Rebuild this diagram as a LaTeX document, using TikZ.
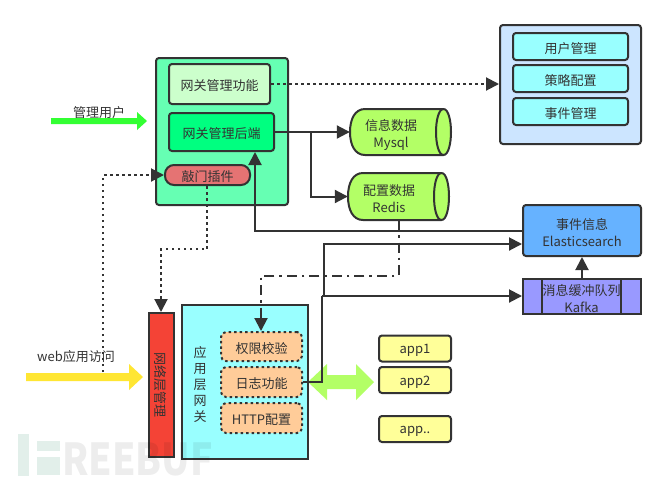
\documentclass[tikz,border=0pt]{standalone}
\usepackage{fontspec}
\setmainfont{Noto Sans CJK SC}
\usetikzlibrary{arrows.meta,calc}
\definecolor{ink}{HTML}{333333}
\definecolor{peach}{HTML}{FFCC99}
\definecolor{mint}{HTML}{66FFB3}
\definecolor{palegreen}{HTML}{CCFFCC}
\definecolor{springg}{HTML}{00FF80}
\definecolor{salmon}{HTML}{E57373}
\definecolor{paleblue}{HTML}{CCE5FF}
\definecolor{aqua}{HTML}{99FFFF}
\definecolor{lime}{HTML}{B3FF66}
\definecolor{skyb}{HTML}{66B2FF}
\definecolor{violet}{HTML}{9999FF}
\definecolor{paley}{HTML}{FFFF99}
\definecolor{redb}{HTML}{F44336}
\definecolor{greenarrow}{HTML}{33FF33}
\definecolor{yellowarrow}{HTML}{FFE633}
\definecolor{markgreen}{HTML}{DFEEE8}
\tikzset{
  x=1pt,y=-1pt,
  every node/.style={text=ink,font=\fontsize{13}{17}\selectfont,align=center,inner sep=0pt},
  boxed/.style={draw=ink,line width=2pt,rounded corners=3pt},
  sharpbox/.style={draw=ink,line width=2pt},
  dotbox/.style={draw=ink,line width=2pt,rounded corners=5pt,dash pattern=on 2.5pt off 3pt,fill=peach},
  tip/.style={-{Triangle[length=13pt,width=13pt]}},
  conn/.style={draw=ink,line width=2pt,tip},
  plainconn/.style={draw=ink,line width=2pt},
  dotconn/.style={draw=ink,line width=2pt,dash pattern=on 2.5pt off 3.5pt,tip},
  dashdotconn/.style={draw=ink,line width=2pt,dash pattern=on 10pt off 5pt on 2.5pt off 5pt,tip},
}
% single line of box text, lowered to sit as in the reference (box size kept)
\newcommand{\dn}[1]{\raisebox{-2pt}[\height][\depth]{#1}}
% horizontal drum: left x, top y, right x, bottom y
\newcommand{\drumshape}[4]{%
  \path[draw=ink,line width=2pt,fill=lime]
    (#3-7.5,#2) -- (#1+15,#2) .. controls (#1+5,#2) and (#1,#2+10) .. (#1,{(#2+#4)/2})
    .. controls (#1,#4-10) and (#1+5,#4) .. (#1+15,#4) -- (#3-7.5,#4)
    .. controls (#3-2.5,#4) and (#3,#4-12) .. (#3,{(#2+#4)/2})
    .. controls (#3,#2+12) and (#3-2.5,#2) .. (#3-7.5,#2) -- cycle;
  \path[draw=ink,line width=2pt]
    (#3-7.5,#2) .. controls (#3-12.5,#2) and (#3-15,#2+12) .. (#3-15,{(#2+#4)/2})
    .. controls (#3-15,#4-12) and (#3-12.5,#4) .. (#3-7.5,#4);
}
\begin{document}
\begin{tikzpicture}
\useasboundingbox (0,0) rectangle (666,483);
\fill[white] (0,0) rectangle (666,483);

% management group
\node[boxed,fill=mint,minimum width=132pt,minimum height=147pt] (mgmt) at (222,131.5) {};
\node[boxed,fill=palegreen,minimum width=101pt,minimum height=40pt] (func) at (219.5,84) {\dn{网关管理功能}};
\node[boxed,fill=springg,minimum width=105pt,minimum height=38pt] (back) at (221.5,132) {\dn{网关管理后端}};
\node[draw=ink,line width=2pt,rounded corners=9pt,fill=salmon,minimum width=85pt,minimum height=20pt] (knock) at (207.5,175) {\dn{敲门插件}};

% right panel
\node[boxed,fill=paleblue,minimum width=141pt,minimum height=119pt] (panel) at (570.5,84.5) {};
\node[boxed,fill=aqua,minimum width=115pt,minimum height=27pt] (u1) at (570.5,46.5) {\dn{用户管理}};
\node[boxed,fill=aqua,minimum width=115pt,minimum height=27pt] (u2) at (570.5,78.5) {\dn{策略配置}};
\node[boxed,fill=aqua,minimum width=115pt,minimum height=27pt] (u3) at (570.5,111.5) {\dn{事件管理}};

% cylinders
\drumshape{350}{109}{451}{155}
\node[minimum width=101pt,minimum height=46pt] (mysql) at (400.5,132) {};
\node (mysqltext) at (391,134.5) {信息数据\\Mysql};
\drumshape{348}{173}{449}{220}
\node[minimum width=101pt,minimum height=47pt] (redis) at (398.5,196.5) {};
\node (redistext) at (389,199) {配置数据\\Redis};

% event store and queue
\node[boxed,fill=skyb,minimum width=118pt,minimum height=51pt] (es) at (582,230.5) {};
\node (estext) at (582,232.5) {事件信息\\Elasticsearch};
\node[sharpbox,fill=violet,minimum width=118pt,minimum height=35pt] (kafka) at (582,296.5) {};
\node[sharpbox,minimum width=79pt,minimum height=35pt] (kafkain) at (581.5,296.5) {};
\node (kafkatext) at (581.5,298.5) {消息缓冲队列\\Kafka};

% apps
\node[boxed,fill=paley,minimum width=72pt,minimum height=26pt] (app1) at (415,348.5) {\dn{app1}};
\node[boxed,fill=paley,minimum width=72pt,minimum height=26pt] (app2) at (415,380) {\dn{app2}};
\node[boxed,fill=paley,minimum width=72pt,minimum height=26pt] (app3) at (415,429) {\dn{app..}};

% gateway
\node[sharpbox,fill=redb,minimum width=25pt,minimum height=144pt] (net) at (161.5,385) {};
\node[rotate=-90] (netlabel) at (160.5,385) {网络层管理};
\node[sharpbox,fill=aqua,minimum width=126pt,minimum height=154pt] (gw) at (245,382) {};
\node[font=\fontsize{13}{16}\selectfont] (gwlabel) at (200,384.5) {应\\用\\层\\网\\关};
\node[dotbox,minimum width=81pt,minimum height=29pt] (auth) at (261.5,346.5) {\dn{权限校验}};
\node[dotbox,minimum width=81pt,minimum height=30pt] (logf) at (261.5,382) {\dn{日志功能}};
\node[dotbox,minimum width=81pt,minimum height=30pt] (http) at (261.5,418) {\dn{HTTP配置}};

% block arrows
\fill[greenarrow] (51,118) -- (137,118) -- (137,112) -- (147,121) -- (137,130) -- (137,124) -- (51,124) -- cycle;
\node (mgrtext) at (99,113) {管理用户};
\fill[yellowarrow] (26,373) -- (129,373) -- (129,364) -- (143,377) -- (129,390) -- (129,381) -- (26,381) -- cycle;
\node (webtext) at (76,357) {web应用访问};
\fill[lime] (308,382) -- (327,364) -- (327,375) -- (356,375) -- (356,364) -- (374,382) -- (356,400) -- (356,389) -- (327,389) -- (327,400) -- cycle;

% connector helpers
\coordinate (bj) at (311,132);
\coordinate (backin) at (255,152);
\coordinate (knockout) at (207,186);
\coordinate (authin) at (261,331);
\coordinate (netin) at (161,312);
\coordinate (webup) at (103,372);
\coordinate (lj) at (322,382);
\coordinate (kj) at (322,296);
\coordinate (ej) at (324,296);

% connectors
\draw[dotconn] (func.east) -- (panel.west |- func.east);
\draw[conn] (back.east) -- (mysql.west);
\draw[conn] (bj) |- (redis.west);
\draw[conn] (es.west) -| (backin);
\draw[plainconn] (logf.east) -- (lj) -- (kj);
\draw[conn] (kj) -- (kafka.west |- kj);
\draw[conn] (ej) |- (es.west |- 0,244);
\draw[conn] (kafka.north) -- (es.south);
\draw[dashdotconn] (redis.south) |- (261,276) -- (authin);
\draw[dotconn] (knockout) |- (161,249) -- (netin);
\draw[dotconn] (webup) |- (knock.west);

% watermark
\fill[markgreen,opacity=.9] (18,434) rectangle (29,476);
\fill[markgreen,opacity=.9] (37,441) rectangle (60,451);
\fill[markgreen,opacity=.9] (37,457) rectangle (60,475);
\node[font=\fontsize{44}{44}\selectfont\bfseries,text=black,opacity=0.07,anchor=west,xscale=.85] (mark) at (62,459) {REEBUF};
\end{tikzpicture}
\end{document}
